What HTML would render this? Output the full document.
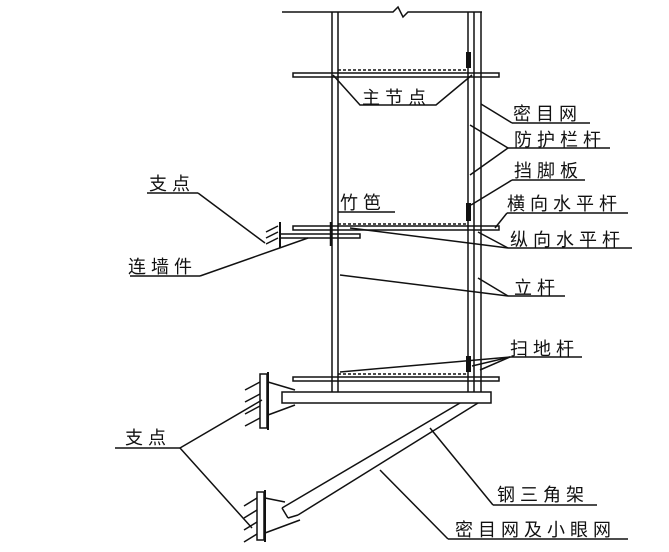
<!DOCTYPE html>
<html><head><meta charset="utf-8"><style>
html,body{margin:0;padding:0;background:#fff;}
svg{display:block;}
text{font-family:"Liberation Sans","Noto Sans CJK SC",sans-serif;font-size:18px;letter-spacing:5px;fill:#111;}
</style></head><body>
<svg width="669" height="552" viewBox="0 0 669 552" xmlns="http://www.w3.org/2000/svg">
<g stroke="#111" stroke-width="1.5" fill="none">
<polyline points="282,12 393,12 398,7 403,17 408,12 482,12"/>
<line x1="332" y1="12" x2="332" y2="392"/>
<line x1="338" y1="12" x2="338" y2="392"/>
<line x1="468" y1="12" x2="468" y2="392"/>
<line x1="474" y1="12" x2="474" y2="392"/>
<line x1="481" y1="12" x2="481" y2="392"/>
<rect x="293" y="73" width="206" height="4"/>
<rect x="293" y="226" width="206" height="4"/>
<rect x="293" y="377" width="206" height="4"/>
<line x1="338" y1="70" x2="468" y2="70" stroke-dasharray="3,2"/>
<line x1="338" y1="224" x2="468" y2="224" stroke-dasharray="3,2"/>
<line x1="338" y1="374" x2="468" y2="374" stroke-dasharray="3,2"/>
<polyline points="333,75 360,105 436,105 472,75"/>
<rect x="280" y="234" width="80" height="4"/>
<line x1="280" y1="222" x2="280" y2="248" stroke-width="2"/>
<line x1="331" y1="222" x2="331" y2="246" stroke-width="2.5"/>
<line x1="266" y1="232" x2="278" y2="226"/>
<line x1="266" y1="238" x2="278" y2="232"/>
<line x1="266" y1="244" x2="278" y2="238"/>
<rect x="282" y="392" width="209" height="11"/>
<line x1="460" y1="403" x2="282" y2="508"/>
<line x1="478" y1="403" x2="298" y2="515"/>
<line x1="282" y1="508" x2="288" y2="518"/>
<line x1="288" y1="518" x2="298" y2="515"/>
<rect x="260" y="374" width="7" height="54"/>
<line x1="268" y1="372" x2="268" y2="430" stroke-width="2"/>
<line x1="268" y1="382" x2="295" y2="390"/>
<line x1="268" y1="415" x2="295" y2="405"/>
<line x1="245" y1="390" x2="260" y2="382"/>
<line x1="245" y1="402" x2="260" y2="394"/>
<line x1="245" y1="414" x2="260" y2="406"/>
<line x1="245" y1="426" x2="260" y2="418"/>
<rect x="257" y="492" width="7" height="48"/>
<line x1="265" y1="490" x2="265" y2="542" stroke-width="2"/>
<line x1="265" y1="498" x2="285" y2="502"/>
<line x1="265" y1="533" x2="300" y2="520"/>
<line x1="244" y1="506" x2="257" y2="498"/>
<line x1="244" y1="518" x2="257" y2="510"/>
<line x1="244" y1="530" x2="257" y2="522"/>
<line x1="244" y1="542" x2="257" y2="534"/>
<line x1="147" y1="193" x2="198" y2="193"/>
<line x1="130" y1="276" x2="200" y2="276"/>
<line x1="115" y1="448" x2="180" y2="448"/>
<line x1="512" y1="123" x2="590" y2="123"/>
<line x1="508" y1="148" x2="610" y2="148"/>
<line x1="512" y1="180" x2="585" y2="180"/>
<line x1="507" y1="213" x2="628" y2="213"/>
<line x1="508" y1="248" x2="632" y2="248"/>
<line x1="508" y1="296" x2="565" y2="296"/>
<line x1="510" y1="357" x2="582" y2="357"/>
<line x1="493" y1="505" x2="597" y2="505"/>
<line x1="448" y1="539" x2="628" y2="539"/>
<line x1="338" y1="212" x2="395" y2="212"/>
<line x1="198" y1="193" x2="265" y2="243"/>
<line x1="200" y1="276" x2="308" y2="238"/>
<line x1="180" y1="448" x2="262" y2="400"/>
<line x1="180" y1="448" x2="252" y2="528"/>
<line x1="512" y1="123" x2="481" y2="104"/>
<line x1="508" y1="148" x2="470" y2="125"/>
<line x1="508" y1="148" x2="470" y2="175"/>
<line x1="512" y1="180" x2="471" y2="205"/>
<line x1="507" y1="213" x2="495" y2="228"/>
<line x1="508" y1="248" x2="478" y2="232"/>
<line x1="508" y1="248" x2="350" y2="228"/>
<line x1="508" y1="296" x2="478" y2="278"/>
<line x1="508" y1="296" x2="340" y2="275"/>
<line x1="510" y1="357" x2="472" y2="366"/>
<line x1="510" y1="357" x2="480" y2="370"/>
<line x1="510" y1="357" x2="340" y2="372"/>
<line x1="493" y1="505" x2="430" y2="428"/>
<line x1="448" y1="539" x2="380" y2="470"/>
</g>
<g fill="#111">
<rect x="466" y="52" width="5" height="16"/>
<rect x="466" y="203" width="5" height="18"/>
<rect x="466" y="356" width="5" height="16"/>
</g>
<text x="362" y="104">主节点</text>
<text x="340" y="209">竹笆</text>
<text x="149" y="190">支点</text>
<text x="128" y="273">连墙件</text>
<text x="125" y="444">支点</text>
<text x="513" y="120">密目网</text>
<text x="514" y="146">防护栏杆</text>
<text x="514" y="177">挡脚板</text>
<text x="507" y="210">横向水平杆</text>
<text x="510" y="246">纵向水平杆</text>
<text x="514" y="294">立杆</text>
<text x="510" y="355">扫地杆</text>
<text x="497" y="501">钢三角架</text>
<text x="455" y="536">密目网及小眼网</text>
</svg>
</body></html>
